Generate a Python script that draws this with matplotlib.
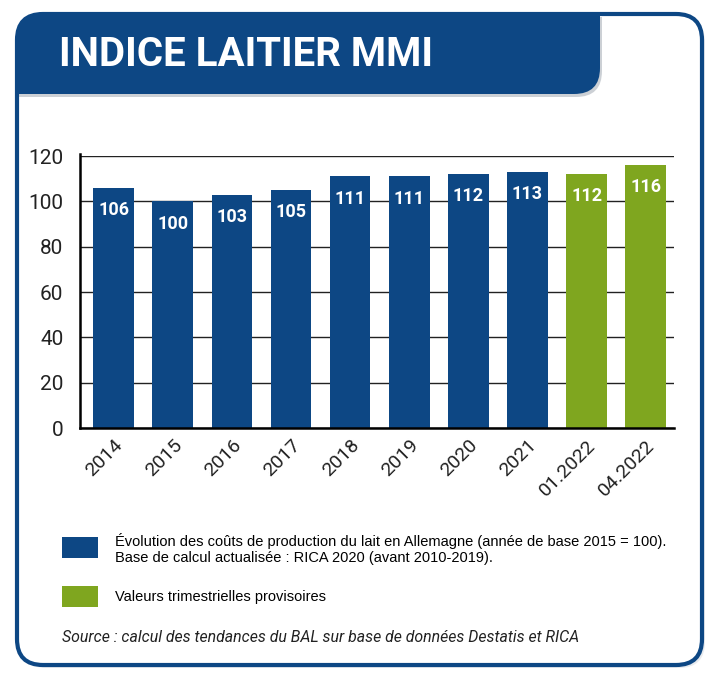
import matplotlib.pyplot as plt
from matplotlib.patches import FancyBboxPatch, PathPatch, Rectangle
from matplotlib.path import Path

# --- Data ---
categories = ["2014", "2015", "2016", "2017", "2018", "2019", "2020", "2021", "01.2022", "04.2022"]
values = [106, 100, 103, 105, 111, 111, 112, 113, 112, 116]
provisional = [False] * 8 + [True, True]
yticks = [0, 20, 40, 60, 80, 100, 120]

title = "INDICE LAITIER MMI"
legend_blue = ("Évolution des coûts de production du lait en Allemagne (année de base 2015 = 100).\n"
               "Base de calcul actualisée : RICA 2020 (avant 2010-2019).")
legend_green = "Valeurs trimestrielles provisoires"
source = "Source : calcul des tendances du BAL sur base de données Destatis et RICA"

BLUE = "#0d4784"
GREEN = "#7fa61f"
COND = ["Roboto", "DejaVu Sans"]
ARIAL = ["Liberation Sans", "DejaVu Sans"]

fig = plt.figure(figsize=(7.2, 6.88), dpi=100)

# --- Background frame drawn in pixel coordinates ---
bg = fig.add_axes([0, 0, 1, 1], zorder=0)
bg.set_xlim(0, 720)
bg.set_ylim(688, 0)
bg.axis("off")

# shadow + frame
bg.add_patch(FancyBboxPatch((20, 17), 685, 651, boxstyle="round,pad=0,rounding_size=26",
                            facecolor="#d8dde4", edgecolor="none", alpha=0.6))
bg.add_patch(FancyBboxPatch((17, 14), 685, 651, boxstyle="round,pad=0,rounding_size=26",
                            facecolor="white", edgecolor=BLUE, linewidth=3))

# title banner: rounded top-left, rounded bottom-right
r = 26
x0, x1, y0, y1 = 17, 600, 14, 94
verts = [(x0, y1), (x0, y0 + r), (x0, y0), (x0 + r, y0), (x1, y0),
         (x1, y1 - r), (x1, y1), (x1 - r, y1), (x0, y1)]
codes = [Path.MOVETO, Path.LINETO, Path.CURVE3, Path.CURVE3, Path.LINETO,
         Path.LINETO, Path.CURVE3, Path.CURVE3, Path.CLOSEPOLY]
shadow = [(x + 2, y + 3) for x, y in verts]
bg.add_patch(PathPatch(Path(shadow, codes), facecolor="#9aa3ad", edgecolor="none", alpha=0.5))
bg.add_patch(PathPatch(Path(verts, codes), facecolor=BLUE, edgecolor="none"))
bg.text(59, 55, title, color="white", fontsize=29, fontweight="bold",
        family=COND, va="center", ha="left")

# legend boxes and notes
bg.add_patch(Rectangle((62, 537), 36, 21, facecolor=BLUE, edgecolor="none"))
bg.add_patch(Rectangle((62, 586), 36, 21, facecolor=GREEN, edgecolor="none"))
bg.text(115, 549, legend_blue, fontsize=10.5, family=ARIAL,
        va="center", ha="left", linespacing=1.25)
bg.text(115, 597, legend_green, fontsize=10.5, family=ARIAL,
        va="center", ha="left")
bg.text(62, 637, source, fontsize=11.4, style="italic", family=COND, va="center", ha="left",
        color="#222222")

# --- Bar chart ---
ax = fig.add_axes([80 / 720, 1 - 428 / 688, (674 - 80) / 720, (428 - 156) / 688], zorder=1)
ax.patch.set_alpha(0)
x = list(range(len(categories)))
colors = [GREEN if p else BLUE for p in provisional]
bars = ax.bar(x, values, width=0.69, color=colors, zorder=2)

for b, v in zip(bars, values):
    ax.annotate(str(v), (b.get_x() + b.get_width() / 2, v), xytext=(0, -16),
                textcoords="offset points", ha="center", va="center",
                color="white", fontsize=13, fontweight="bold", family=COND, zorder=3)

ax.set_xlim(-0.57, len(categories) - 1 + 0.48)
ax.set_ylim(0, 120)
ax.set_yticks(yticks)
ax.yaxis.grid(True, color="#222222", linewidth=1)
ax.set_axisbelow(True)
ax.set_xticks(x)
ax.set_xticklabels(categories, rotation=45, ha="right", rotation_mode="anchor",
                   fontsize=14, family=COND, color="#222222")
for lbl in ax.get_yticklabels():
    lbl.set_fontsize(15)
    lbl.set_family(COND)
    lbl.set_color("#222222")
ax.tick_params(axis="both", length=0, pad=6)
ax.tick_params(axis="y", pad=12)
for s in ["top", "right"]:
    ax.spines[s].set_visible(False)
ax.spines["left"].set_linewidth(1.8)
ax.spines["bottom"].set_linewidth(1.8)
ax.spines["left"].set_bounds(0, 121)

fig.savefig("out.png", dpi=100)
